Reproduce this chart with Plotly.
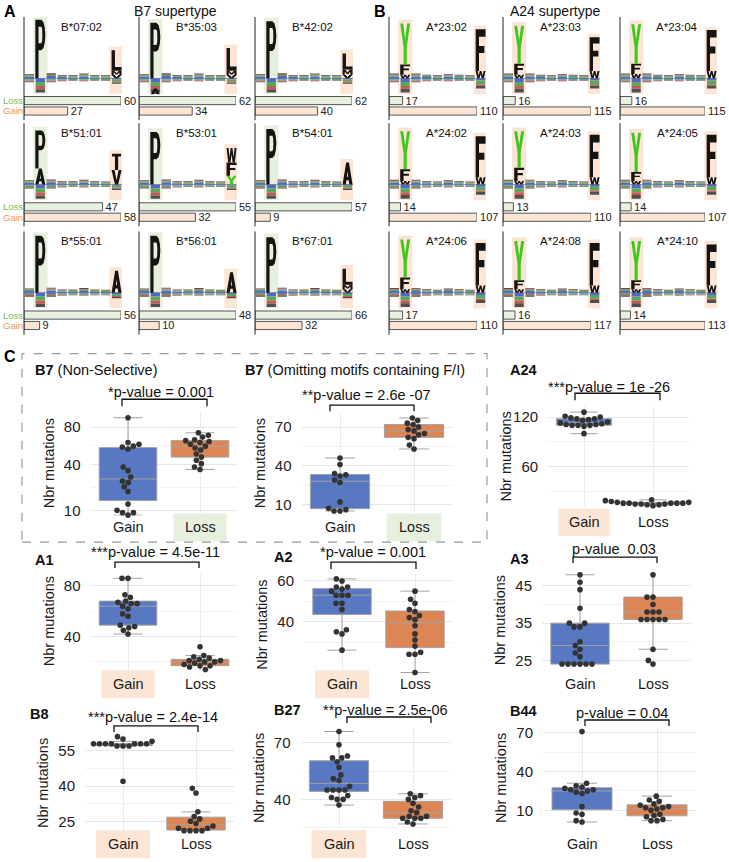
import numpy as np
import plotly.graph_objects as go

W, H = 729, 862
FONT = "Liberation Sans, Arial, sans-serif"

# ---------------- Data: panels A and B ----------------
b7_alleles = ["B*07:02", "B*35:03", "B*42:02", "B*51:01", "B*53:01", "B*54:01",
              "B*55:01", "B*56:01", "B*67:01"]
b7_loss = [60, 62, 62, 47, 55, 57, 56, 48, 66]
b7_gain = [27, 34, 40, 58, 32, 9, 9, 10, 32]

a24_alleles = ["A*23:02", "A*23:03", "A*23:04", "A*24:02", "A*24:03", "A*24:05",
               "A*24:06", "A*24:08", "A*24:10"]
a24_loss = [17, 16, 16, 14, 13, 14, 17, 16, 14]
a24_gain = [110, 115, 115, 107, 110, 107, 110, 117, 113]

# anchor letter stacks (bottom -> top), in bits
b7_p2 = [[("P", 4.0)], [("P", 3.8)], [("P", 3.9)],
         [("A", 1.1), ("P", 2.6)], [("P", 3.6)], [("P", 3.8)],
         [("P", 3.9)], [("P", 3.9)], [("P", 3.8)]]
b7_p9 = [[("V", 0.22), ("M", 0.3), ("L", 1.4)],
         [("V", 0.22), ("M", 0.3), ("L", 1.55)],
         [("V", 0.25), ("M", 0.35), ("L", 1.1)],
         [("V", 1.0), ("I", 1.1)],
         [("Y", 0.6), ("F", 0.9), ("W", 1.0)],
         [("A", 1.5)], [("A", 1.5)], [("A", 1.4)],
         [("V", 0.25), ("M", 0.3), ("L", 1.1)]]
b7_p2_neg = [[], [("A", 0.45)], [], [], [], [], [], [], []]

a24_p2 = [[("W", 0.25), ("F", 0.7), ("Y", 2.8)], [("W", 0.25), ("F", 0.75), ("Y", 2.6)],
          [("W", 0.3), ("F", 0.7), ("Y", 2.7)], [("W", 0.25), ("F", 0.8), ("Y", 2.6)],
          [("W", 0.25), ("F", 0.9), ("Y", 2.5)], [("W", 0.25), ("F", 0.6), ("Y", 2.7)],
          [("W", 0.25), ("F", 0.8), ("Y", 2.6)], [("W", 0.25), ("F", 0.6), ("Y", 2.7)],
          [("W", 0.25), ("F", 0.6), ("Y", 2.7)]]
a24_p9 = [[("W", 0.5), ("F", 2.85)], [("W", 0.5), ("F", 2.3)], [("W", 0.5), ("F", 2.8)],
          [("W", 0.5), ("F", 2.8)], [("W", 0.5), ("F", 2.9)], [("W", 0.5), ("F", 2.9)],
          [("W", 0.5), ("F", 2.9)], [("W", 0.5), ("F", 2.9)], [("W", 0.5), ("F", 2.8)]]

logo_positions = [1, 2, 3, 4, 5, 6, 7, 8, 9]
# small background letters near the baseline (bits), by colour
b7_noise_up = {"#5068c8": [0.12, 0, 0.15, 0.08, 0.06, 0.13, 0.06, 0.06, 0],
               "#58a858": [0.08, 0, 0.08, 0.06, 0.08, 0.08, 0.08, 0.06, 0],
               "#c85858": [0.04, 0, 0.06, 0.03, 0.03, 0.05, 0.03, 0.03, 0],
               "#505050": [0.06, 0, 0.06, 0.05, 0.05, 0.06, 0.05, 0.05, 0]}
b7_noise_dn = {"#5068c8": [-0.07, -0.25, -0.09, -0.06, -0.05, -0.07, -0.05, -0.05, -0.09],
               "#58a858": [-0.09, -0.28, -0.07, -0.07, -0.06, -0.06, -0.06, -0.06, -0.13],
               "#c85858": [-0.06, -0.22, -0.06, -0.05, -0.03, -0.05, -0.03, -0.03, -0.07],
               "#505050": [-0.05, -0.22, -0.05, -0.03, -0.03, -0.03, -0.03, -0.03, -0.09]}
a24_noise_up = {"#5068c8": [0.12, 0, 0.12, 0.09, 0.06, 0.12, 0.07, 0.06, 0],
                "#58a858": [0.09, 0, 0.09, 0.07, 0.07, 0.07, 0.09, 0.06, 0],
                "#c85858": [0.05, 0, 0.06, 0.03, 0.03, 0.05, 0.03, 0.03, 0],
                "#505050": [0.06, 0, 0.06, 0.05, 0.05, 0.06, 0.05, 0.05, 0]}
a24_noise_dn = {"#5068c8": [-0.07, -0.26, -0.09, -0.06, -0.05, -0.07, -0.05, -0.05, -0.15],
                "#58a858": [-0.09, -0.26, -0.07, -0.07, -0.06, -0.06, -0.06, -0.06, -0.25],
                "#c85858": [-0.06, -0.2, -0.06, -0.05, -0.03, -0.05, -0.03, -0.03, -0.1],
                "#505050": [-0.05, -0.25, -0.05, -0.03, -0.03, -0.03, -0.03, -0.03, -0.2]}

# ---------------- Data: panel C (number of mutations) ----------------
categories = ["Gain", "Loss"]
b7ns_gain = [92, 62, 60, 58, 57, 55, 38, 35, 30, 27, 26, 23, 20, 13, 10, 9, 9, 8]
b7ns_loss = [73, 70, 68, 65, 64, 63, 62, 60, 58, 56, 54, 50, 47, 44, 41, 38, 36]
b7om_gain = [46, 41, 34, 33, 32, 29, 27, 12, 7, 6, 5, 5]
b7om_loss = [77, 75, 73, 72, 70, 68, 67, 65, 64, 62, 61, 56, 53]
a24_gain_n = [126, 121, 120, 119, 118, 118, 117, 116, 114, 113, 112, 111, 111, 110, 110, 110, 109, 100]
a24_loss_n = [20, 19, 18, 18, 17, 17, 17, 16, 16, 16, 16, 16, 15, 15, 15, 14, 14, 13]
a1_gain = [86, 86, 73, 71, 68, 67, 66, 66, 64, 62, 58, 56, 49, 48, 47, 45, 42]
a1_loss = [32, 25, 24, 23, 22, 21, 21, 20, 20, 19, 18, 17, 17, 16, 14, 13, 12]
a2_gain = [61, 60, 57, 57, 56, 55, 53, 53, 53, 49, 49, 46, 36, 35, 34, 26]
a2_loss = [55, 51, 49, 46, 45, 43, 42, 41, 38, 34, 31, 28, 25, 24, 24, 15]
a3_gain = [48, 46, 44, 39, 35, 35, 34, 34, 30, 29, 28, 27, 26, 24, 24, 24, 24, 24, 24]
a3_loss = [49, 49, 48, 42, 42, 40, 38, 38, 38, 36, 36, 36, 36, 36, 28, 25, 24]
b8_gain = [61, 60, 59, 58, 58, 58, 58, 58, 58, 58, 57, 57, 57, 42]
b8_loss = [39, 37, 29, 27, 26, 25, 24, 23, 22, 22, 21, 21, 21, 21]
b27_gain = [76, 69, 63, 62, 62, 60, 57, 53, 51, 50, 47, 45, 45, 45, 45, 42, 41, 40, 40, 37]
b27_loss = [43, 42, 41, 40, 38, 36, 34, 33, 31, 31, 30, 30, 30, 28, 27]
b44_gain = [71, 31, 29, 28, 27, 26, 26, 25, 24, 23, 13, 8, 7, 2, 1]
b44_loss = [21, 18, 17, 15, 14, 13, 12, 12, 11, 10, 7, 6, 5, 3, 2, 2]

# ---------------- Styles ----------------
GREEN_HL = "#e7efdf"
ORANGE_HL = "#fde5d5"
LETTER_BLACK = "#161412"
LETTER_GREEN = "#3ec81e"
BOX_BLUE = "#5878c2"
BOX_ORANGE = "#dc8656"

fig = go.Figure()
shapes, annotations = [], []
axcount = [0]


def add_axes(xdom, ydom, xr, yr, xkw=None, ykw=None):
    axcount[0] += 1
    s = "" if axcount[0] == 1 else str(axcount[0])
    base = dict(showgrid=False, zeroline=False, showticklabels=False, showline=False,
                ticks="", fixedrange=True)
    xa = dict(base, domain=[xdom[0] / W, xdom[1] / W], range=xr, anchor="y" + s)
    ya = dict(base, domain=[1 - ydom[1] / H, 1 - ydom[0] / H], range=yr, anchor="x" + s)
    if xkw:
        xa.update(xkw)
    if ykw:
        ya.update(ykw)
    fig.update_layout({"xaxis" + s: xa, "yaxis" + s: ya})
    return "x" + s, "y" + s


GLYPHS = {
    "P": [[(0, 0), (0, 1), (0.6, 1), (0.82, 0.96), (0.95, 0.86), (1.0, 0.74), (0.95, 0.62),
           (0.82, 0.52), (0.6, 0.48), (0.32, 0.48), (0.32, 0)],
          [(0.32, 0.6), (0.6, 0.6), (0.68, 0.64), (0.7, 0.74), (0.68, 0.84), (0.6, 0.88), (0.32, 0.88)]],
    "L": [[(0, 0), (0, 1), (0.34, 1), (0.34, 0.18), (1, 0.18), (1, 0)]],
    "F": [[(0, 0), (0, 1), (1, 1), (1, 0.82), (0.34, 0.82), (0.34, 0.6), (0.88, 0.6),
           (0.88, 0.43), (0.34, 0.43), (0.34, 0)]],
    "Y": [[(0, 1), (0.3, 1), (0.5, 0.62), (0.7, 1), (1, 1), (0.66, 0.42), (0.66, 0),
           (0.34, 0), (0.34, 0.42)]],
    "A": [[(0, 0), (0.36, 1), (0.64, 1), (1, 0), (0.68, 0), (0.61, 0.2), (0.39, 0.2), (0.32, 0)],
          [(0.44, 0.36), (0.5, 0.62), (0.56, 0.36)]],
    "I": [[(0.05, 1), (0.95, 1), (0.95, 0.84), (0.66, 0.84), (0.66, 0), (0.34, 0), (0.34, 0.84),
           (0.05, 0.84)]],
    "V": [[(0, 1), (0.3, 1), (0.5, 0.3), (0.7, 1), (1, 1), (0.66, 0), (0.34, 0)]],
    "W": [[(0, 1), (0.2, 1), (0.3, 0.35), (0.41, 1), (0.59, 1), (0.7, 0.35), (0.8, 1), (1, 1),
           (0.83, 0), (0.61, 0), (0.5, 0.58), (0.39, 0), (0.17, 0)]],
    "M": [[(0, 0), (0, 1), (0.26, 1), (0.5, 0.42), (0.74, 1), (1, 1), (1, 0), (0.78, 0),
           (0.78, 0.62), (0.58, 0.12), (0.42, 0.12), (0.22, 0.62), (0.22, 0)]],
}


def glyph_path(letter, x0, x1, y0, y1):
    out = []
    for sub in GLYPHS[letter]:
        pts = ["%.4f,%.4f" % (x0 + u * (x1 - x0), y0 + v * (y1 - y0)) for u, v in sub]
        out.append("M" + " L".join(pts) + " Z")
    return " ".join(out)


def mini_panel(ax_px, rt, label, loss, gain, p2, p9, neg2, hl2, noise_up, noise_dn,
               logo_w, bar_w, show_lg):
    xl, yl = add_axes((ax_px, ax_px + logo_w), (rt, rt + 78), [0.5, 9.5], [-1.1, 4.2],
                      ykw=dict(zeroline=True, zerolinecolor="#a0a0a0", zerolinewidth=1))
    for col, vals in list(noise_up.items()) + list(noise_dn.items()):
        fig.add_trace(go.Bar(x=logo_positions, y=vals, width=0.85, marker_color=col,
                             marker_line_width=0, xaxis=xl, yaxis=yl, showlegend=False,
                             hoverinfo="skip"))
    for pos, stack, hl in ((2, p2, hl2), (9, p9, ORANGE_HL)):
        top = sum(h for _, h in stack)
        shapes.append(dict(type="rect", xref=xl, yref=yl, x0=pos - 0.66, x1=pos + 0.66,
                           y0=-1.08, y1=min(top + 0.25, 4.2), fillcolor=hl,
                           line=dict(width=0), layer="below"))
        y0 = 0.0
        for letter, h in stack:
            shapes.append(dict(type="path", xref=xl, yref=yl,
                               path=glyph_path(letter, pos - 0.46, pos + 0.46, y0, y0 + h),
                               fillcolor=LETTER_GREEN if letter == "Y" else LETTER_BLACK,
                               line=dict(width=0), layer="above"))
            y0 += h
    for letter, h in neg2:
        shapes.append(dict(type="path", xref=xl, yref=yl,
                           path=glyph_path(letter, 1.54, 2.46, -0.7 - h, -0.7),
                           fillcolor=LETTER_BLACK, line=dict(width=0), layer="above"))
    annotations.append(dict(text=label, xref="paper", yref="paper", x=(ax_px + 57) / W,
                            y=1 - (rt + 10) / H, showarrow=False, xanchor="center",
                            yanchor="middle", font=dict(size=11.5, color="#111")))
    shapes.append(dict(type="line", xref="paper", yref="paper", x0=ax_px / W, x1=ax_px / W,
                       y0=1 - rt / H, y1=1 - (rt + 104) / H, line=dict(color="#222", width=1)))
    m = max(loss, gain)
    xb, yb = add_axes((ax_px, ax_px + bar_w), (rt + 79, rt + 100), [0, m], [-0.5, 1.5])
    for yv, val, col in ((1, loss, GREEN_HL), (0, gain, ORANGE_HL)):
        fig.add_trace(go.Bar(y=[yv], x=[val], orientation="h", width=0.78, marker_color=col,
                             marker_line=dict(color="#555", width=1), text=[str(val)],
                             textposition="outside", textfont=dict(size=11, color="#222"),
                             cliponaxis=False, constraintext="none", xaxis=xb, yaxis=yb,
                             showlegend=False, hoverinfo="skip"))
    if show_lg:
        for yv, txt, col in ((1, "Loss", "#78b954"), (0, "Gain", "#ef9358")):
            annotations.append(dict(text=txt, xref="paper", yref=yb, x=1 / W, y=yv,
                                    showarrow=False, xanchor="left", yanchor="middle",
                                    font=dict(size=9.5, color=col)))


row_tops = [14, 121, 230]
a_cols = [24, 139, 255]
b_cols = [389, 503, 620]
b_bar_w = [88, 88, 85]
for i in range(9):
    r, c = divmod(i, 3)
    mini_panel(a_cols[c], row_tops[r], b7_alleles[i], b7_loss[i], b7_gain[i], b7_p2[i],
               b7_p9[i], b7_p2_neg[i], GREEN_HL, b7_noise_up, b7_noise_dn, 98, 97, c == 0)
    mini_panel(b_cols[c], row_tops[r], a24_alleles[i], a24_loss[i], a24_gain[i], a24_p2[i],
               a24_p9[i], [], ORANGE_HL, a24_noise_up, a24_noise_dn, 97, b_bar_w[c], False)


def swarm(vals_t, ppx_y, ppx_x, d=6.0):
    vals_t = np.asarray(vals_t, float)
    order = np.argsort(vals_t, kind="stable")
    placed = []
    offs = np.zeros(len(vals_t))
    for i in order:
        y = vals_t[i] * ppx_y
        cands = [0.0]
        for py, pxx in placed:
            dy = abs(py - y)
            if dy < d:
                dx = np.sqrt(d * d - dy * dy)
                cands += [pxx + dx, pxx - dx]
        cands.sort(key=lambda cc: (abs(cc), cc))
        for cc in cands:
            if all((cc - pxx) ** 2 + (y - py) ** 2 >= d * d - 1e-6 for py, pxx in placed):
                offs[i] = cc
                break
        placed.append((y, offs[i]))
    return offs / ppx_x


box_cfgs = [
    dict(title="<b>B7</b> (Non-Selective)", tx=33, ty=370, data=(b7ns_gain, b7ns_loss),
         centers=(128, 200), ydom=(412, 516), scale="sqrt", ref=((80, 427), (40, 465)),
         ticks=[10, 40, 80], pval="*p-value = 0.001", pv=(161, 392), br=(122, 207, 399, 406),
         cat_y=528, hl=(1, GREEN_HL)),
    dict(title="<b>B7</b> (Omitting motifs containing F/I)", tx=243, ty=370,
         data=(b7om_gain, b7om_loss), centers=(340, 414), ydom=(414, 514), scale="lin",
         ref=((70, 427), (40, 466)), ticks=[10, 40, 70], pval="**p-value = 2.6e -07",
         pv=(366, 395), br=(330, 414, 405, 411), cat_y=528, hl=(1, GREEN_HL)),
    dict(title="<b>A24</b>", tx=508, ty=370, data=(a24_gain_n, a24_loss_n), centers=(584, 653),
         ydom=(406, 507), scale="lin", ref=((120, 417), (60, 467)), ticks=[60, 120],
         pval="***p-value = 1e -26", pv=(609, 387), br=(575, 660, 393, 400), cat_y=523,
         hl=(0, ORANGE_HL)),
    dict(title="<b>A1</b>", tx=33, ty=561, data=(a1_gain, a1_loss), centers=(128, 200),
         ydom=(574, 672), scale="lin", ref=((80, 587), (40, 638)), ticks=[40, 80],
         pval="***p-value = 4.5e-11", pv=(155, 553), br=(115, 199, 563, 569), cat_y=686,
         hl=(0, ORANGE_HL)),
    dict(title="<b>A2</b>", tx=272, ty=558, data=(a2_gain, a2_loss), centers=(342, 415),
         ydom=(575, 677), scale="lin", ref=((60, 582), (40, 623)), ticks=[40, 60],
         pval="*p-value = 0.001", pv=(373, 553), br=(331, 416, 563, 570), cat_y=686,
         hl=(0, ORANGE_HL)),
    dict(title="<b>A3</b>", tx=508, ty=560, data=(a3_gain, a3_loss), centers=(580, 653),
         ydom=(573, 670), scale="lin", ref=((45, 587), (25, 662)), ticks=[25, 35, 45],
         pval="p-value  0.03", pv=(614, 550), br=(573, 657, 558, 564), cat_y=686, hl=None),
    dict(title="<b>B8</b>", tx=28, ty=716, data=(b8_gain, b8_loss), centers=(123, 196),
         ydom=(735, 836), scale="lin", ref=((55, 753), (25, 824)), ticks=[25, 40, 55],
         pval="***p-value = 2.4e-14", pv=(153, 719), br=(114, 198, 728, 734), cat_y=847,
         hl=(0, ORANGE_HL)),
    dict(title="<b>B27</b>", tx=272, ty=712, data=(b27_gain, b27_loss), centers=(339, 413),
         ydom=(730, 832), scale="lin", ref=((70, 745), (40, 802)), ticks=[40, 70],
         pval="**p-value = 2.5e-06", pv=(386, 712), br=(347, 431, 719, 725), cat_y=847,
         hl=(0, ORANGE_HL)),
    dict(title="<b>B44</b>", tx=508, ty=713, data=(b44_gain, b44_loss), centers=(582, 657),
         ydom=(729, 832), scale="lin", ref=((70, 735), (10, 813)), ticks=[10, 40, 70],
         pval="p-value = 0.04", pv=(622, 715), br=(585, 669, 722, 728), cat_y=847, hl=None),
]

for cfg in box_cfgs:
    f = (lambda v: np.sqrt(np.asarray(v, float))) if cfg["scale"] == "sqrt" else \
        (lambda v: np.asarray(v, float))
    g, l = cfg["centers"]
    unit = l - g
    (t1, p1), (t2, p2) = cfg["ref"]
    k = (p2 - p1) / (float(f(t1)) - float(f(t2)))
    top, bot = cfg["ydom"]
    ymax = float(f(t1)) + (p1 - top) / k
    ymin = float(f(t1)) - (bot - p1) / k
    majors = [float(f(t)) for t in cfg["ticks"]]
    step = [b - a for a, b in zip(majors[:-1], majors[1:])]
    minors = [(a + b) / 2 for a, b in zip(majors[:-1], majors[1:])]
    minors += [majors[0] - step[0] / 2, majors[-1] + step[-1] / 2]
    minors = [m for m in minors if ymin < m < ymax]
    xa, ya = add_axes((g - 0.52 * unit, l + 0.52 * unit), (top, bot), [-0.52, 1.52], [ymin, ymax],
                      xkw=dict(showgrid=True, gridcolor="#ebebeb", gridwidth=1,
                               tickmode="array", tickvals=[0, 1]),
                      ykw=dict(showgrid=True, gridcolor="#e6e6e6", gridwidth=1,
                               tickmode="array", tickvals=majors,
                               ticktext=[str(t) for t in cfg["ticks"]], showticklabels=True,
                               tickfont=dict(size=15, color="#222", family=FONT),
                               ticklabelstandoff=9,
                               minor=dict(tickmode="array", tickvals=minors, showgrid=True,
                                          gridcolor="#f0f0f0", gridwidth=0.8)))
    for ci, (vals, col) in enumerate(zip(cfg["data"], (BOX_BLUE, BOX_ORANGE))):
        v = np.asarray(vals, float)
        q1, med, q3 = np.percentile(v, [25, 50, 75])
        iqr = q3 - q1
        lo = v[v >= q1 - 1.5 * iqr].min()
        hi = v[v <= q3 + 1.5 * iqr].max()
        fig.add_trace(go.Box(x=[ci], q1=[float(f(q1))], median=[float(f(med))],
                             q3=[float(f(q3))], lowerfence=[float(f(lo))],
                             upperfence=[float(f(hi))], width=0.8, fillcolor=col,
                             line=dict(color="#a3a3a3", width=1), whiskerwidth=0.5,
                             xaxis=xa, yaxis=ya, showlegend=False, hoverinfo="skip"))
        yt = f(v)
        offs = swarm(yt, k, unit)
        fig.add_trace(go.Scatter(x=ci + offs, y=yt, mode="markers",
                                 marker=dict(size=5.6, color="#333333"), xaxis=xa, yaxis=ya,
                                 showlegend=False, hoverinfo="skip", cliponaxis=False))
        annotations.append(dict(text=categories[ci], xref=xa, yref="paper", x=ci,
                                y=1 - cfg["cat_y"] / H, showarrow=False, xanchor="center",
                                yanchor="middle", font=dict(size=14.5, color="#1a1a1a")))
    if cfg["hl"]:
        ci, col = cfg["hl"]
        cy = cfg["cat_y"]
        shapes.append(dict(type="rect", xref=xa, yref="paper", x0=ci - 0.37, x1=ci + 0.37,
                           y0=1 - (cy + 14) / H, y1=1 - (cy - 14) / H, fillcolor=col,
                           line=dict(width=0), layer="below"))
    annotations.append(dict(text=cfg["title"], xref="paper", yref="paper", x=cfg["tx"] / W,
                            y=1 - cfg["ty"] / H, showarrow=False, xanchor="left",
                            yanchor="middle", font=dict(size=14.5, color="#111")))
    annotations.append(dict(text=cfg["pval"], xref="paper", yref="paper", x=cfg["pv"][0] / W,
                            y=1 - cfg["pv"][1] / H, showarrow=False, xanchor="center",
                            yanchor="middle", font=dict(size=14.5, color="#111")))
    bx0, bx1, by0, by1 = cfg["br"]
    shapes.append(dict(type="path", xref="paper", yref="paper",
                       path="M%.5f,%.5f L%.5f,%.5f L%.5f,%.5f L%.5f,%.5f" % (
                           bx0 / W, 1 - by1 / H, bx0 / W, 1 - by0 / H, bx1 / W, 1 - by0 / H,
                           bx1 / W, 1 - by1 / H),
                       line=dict(color="#111", width=1.3)))
    annotations.append(dict(text="Nbr mutations", xref="paper", yref="paper",
                            x=(g - 0.52 * unit - 42) / W, y=1 - (top + bot) / 2 / H,
                            textangle=-90, showarrow=False, xanchor="center", yanchor="middle",
                            font=dict(size=14.5, color="#1a1a1a")))

# dashed frame around the B7 comparisons
shapes.append(dict(type="rect", xref="paper", yref="paper", x0=22 / W, x1=487 / W,
                   y0=1 - 543 / H, y1=1 - 353 / H,
                   line=dict(color="#9a9a9a", width=1.2, dash="dash"),
                   fillcolor="rgba(0,0,0,0)"))

# panel letters and titles
for txt, x, y in (("A", 2, 9), ("B", 372, 9), ("C", 2, 356)):
    annotations.append(dict(text="<b>%s</b>" % txt, xref="paper", yref="paper", x=x / W,
                            y=1 - y / H, showarrow=False, xanchor="left", yanchor="middle",
                            font=dict(size=16, color="#000")))
for txt, x in (("B7 supertype", 175), ("A24 supertype", 555)):
    annotations.append(dict(text=txt, xref="paper", yref="paper", x=x / W, y=1 - 8 / H,
                            showarrow=False, xanchor="center", yanchor="middle",
                            font=dict(size=14, color="#111")))

fig.update_layout(width=W, height=H, margin=dict(l=0, r=0, t=0, b=0), autosize=False,
                  paper_bgcolor="white", plot_bgcolor="rgba(0,0,0,0)", barmode="relative",
                  showlegend=False, shapes=shapes, annotations=annotations,
                  font=dict(family=FONT, color="#111"))
fig.write_html("out.html", config={"displayModeBar": False, "staticPlot": True},
               post_script="document.body.style.margin='0px';"
                           "document.body.style.overflow='hidden';")
